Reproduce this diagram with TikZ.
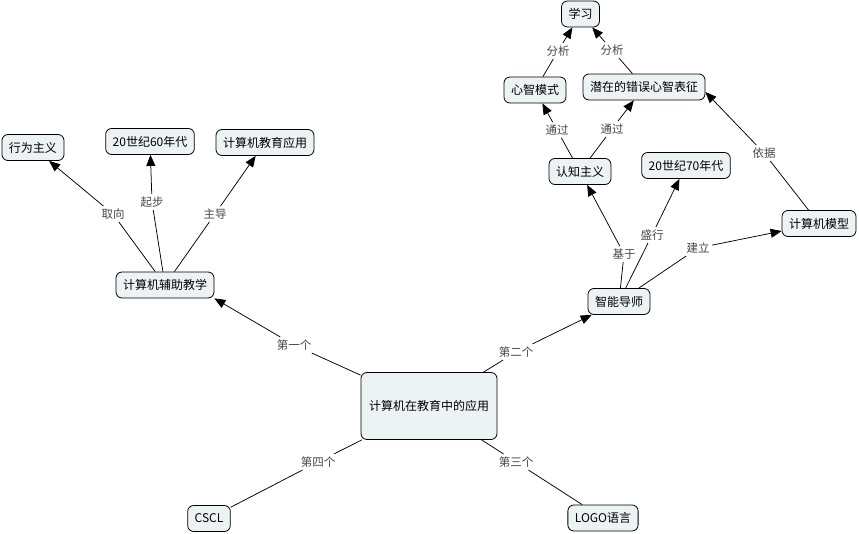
\documentclass[tikz,border=0pt]{standalone}
\usepackage{fontspec}
\newfontfamily\cjk{Noto Sans CJK SC}
\usepackage{tikz}
\usetikzlibrary{arrows.meta, positioning, calc}
\usepackage{xcolor}

\definecolor{conceptfill}{RGB}{237,242,245}
\definecolor{linkgray}{RGB}{70,70,70}

\tikzset{
  concept/.style={draw=black, fill=conceptfill, rounded corners=6pt, inner xsep=7pt, inner ysep=2pt, minimum height=26pt, font=\cjk\fontsize{12}{14}\selectfont, line width=0.8pt},
  linkword/.style={fill=white, inner sep=2.5pt, text=linkgray, font=\cjk\fontsize{11.5}{13}\selectfont},
  link/.style={line width=0.75pt},
  arrowlink/.style={link, -{Triangle[length=11pt,width=9pt]}},
}

\begin{document}
\begin{tikzpicture}[x=1pt, y=-1pt]
      \useasboundingbox (0, 0) rectangle (859, 534);

      % concepts
      \node[concept, minimum width=136pt, minimum height=67pt] (main) at (429, 406) {计算机在教育中的应用};
      \node[concept] (cai) at (165, 285) {计算机辅助教学};
      \node[concept] (behav) at (33, 147.5) {行为主义};
      \node[concept] (sixties) at (150, 141.5) {20世纪60年代};
      \node[concept] (eduapp) at (265, 142.5) {计算机教育应用};
      \node[concept] (its) at (619, 301.5) {智能导师};
      \node[concept] (cogn) at (580, 171.5) {认知主义};
      \node[concept] (seventies) at (686, 165.5) {20世纪70年代};
      \node[concept] (model) at (819, 223.5) {计算机模型};
      \node[concept] (mental) at (535, 90) {心智模式};
      \node[concept] (latent) at (644, 87) {潜在的错误心智表征};
      \node[concept] (learn) at (580.5, 14) {学习};
      \node[concept] (cscl) at (209, 518.5) {CSCL};
      \node[concept] (logo) at (603, 518) {LOGO语言};

      % linking words
      \node[linkword] (first) at (294, 345) {第一个};
      \node[linkword] (second) at (516, 352) {第二个};
      \node[linkword] (third) at (516, 462) {第三个};
      \node[linkword] (fourth) at (318, 462) {第四个};
      \node[linkword] (toward) at (113, 214) {取向};
      \node[linkword] (start) at (152, 202) {起步};
      \node[linkword] (lead) at (215, 214) {主导};
      \node[linkword] (based) at (624, 254) {基于};
      \node[linkword] (popular) at (652, 235) {盛行};
      \node[linkword] (build) at (698, 248) {建立};
      \node[linkword] (basis) at (764, 153) {依据};
      \node[linkword] (via1) at (557, 130) {通过};
      \node[linkword] (via2) at (612, 129) {通过};
      \node[linkword] (anal1) at (558, 51) {分析};
      \node[linkword] (anal2) at (612, 50) {分析};

      % connections
      \draw[link] (main) -- (first);
      \draw[arrowlink] (first) -- (cai.south east);
      \draw[link] (main) -- (second);
      \draw[arrowlink] (second) -- (its);
      \draw[link] (main) -- (third);
      \draw[link] (third) -- (logo);
      \draw[link] (main) -- (fourth);
      \draw[link] (fourth) -- (cscl);

      \draw[link] (cai) -- (toward);
      \draw[arrowlink] (toward) -- (behav);
      \draw[link] (cai) -- (start);
      \draw[arrowlink] (start) -- (sixties);
      \draw[link] (cai) -- (lead);
      \draw[arrowlink] (lead) -- (eduapp);

      \draw[link] (its) -- (based);
      \draw[arrowlink] (based) -- (cogn);
      \draw[link] (its) -- (popular);
      \draw[arrowlink] (popular) -- (seventies);
      \draw[link] (its) -- (build);
      \draw[arrowlink] (build) -- (model);
      \draw[link] (model) -- (basis);
      \draw[arrowlink] (basis) -- ([yshift=-5pt]latent.east);

      \draw[link] (cogn) -- (via1);
      \draw[arrowlink] (via1) -- (mental);
      \draw[link] (cogn) -- (via2);
      \draw[arrowlink] (via2) -- (latent);
      \draw[link] (mental) -- (anal1);
      \draw[arrowlink] (anal1) -- (learn);
      \draw[link] (latent) -- (anal2);
      \draw[arrowlink] (anal2) -- (learn);

    \end{tikzpicture}
\end{document}
